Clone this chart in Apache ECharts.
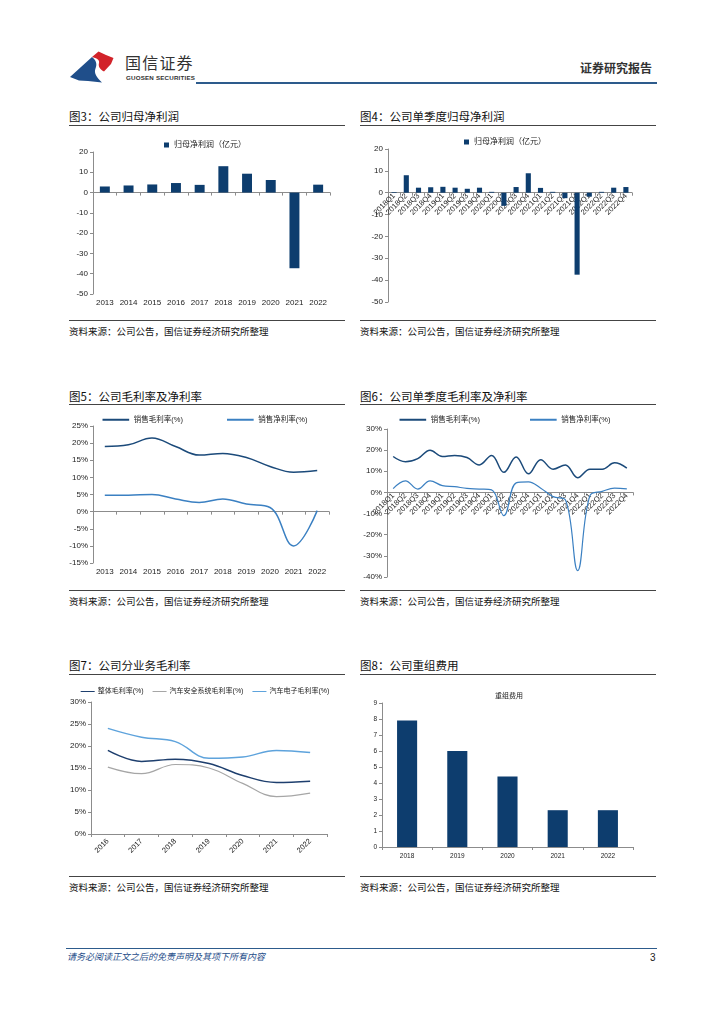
<!DOCTYPE html>
<html>
<head>
<meta charset="utf-8">
<script src="https://cdn.jsdelivr.net/npm/echarts@6/dist/echarts.min.js"></script>
<style>
  html,body{margin:0;padding:0;background:#fff;}
  body{width:724px;height:1024px;position:relative;overflow:hidden;font-family:"Liberation Sans","Noto Sans CJK SC",sans-serif;}
  .abs{position:absolute;}
  .title{position:absolute;font-family:"Noto Sans CJK SC",sans-serif;font-size:11.5px;color:#111;line-height:14px;white-space:nowrap;}
  .src{position:absolute;font-family:"Noto Sans CJK SC",sans-serif;font-size:9.5px;color:#111;line-height:12px;white-space:nowrap;}
  .hl{position:absolute;height:1px;background:#444;}
  .chart{position:absolute;}
</style>
</head>
<body>
<!-- header -->
<svg class="abs" style="left:0;top:0" width="130" height="95" viewBox="0 0 130 95">
  <path d="M70,77 L92,57 C96,60 97.5,64 95.5,68.5 C93.5,73 97,78 102,82.5 L88,81 L79,80.5 Z" fill="#1f4e8a"/>
  <path d="M92,57 L98.5,51.5 L106,55 L113.5,58 L111,64 L104,71.5 C100,69.5 98,66.5 99,63 C100,60 96.5,58 92,57 Z" fill="#d2232a"/>
</svg>
<div class="abs" style="left:125px;top:53px;font-family:'Noto Sans CJK SC';font-size:16px;letter-spacing:1.2px;color:#333;line-height:18px;">国信证券</div>
<div class="abs" style="left:126px;top:74px;font-family:'Liberation Sans';font-size:6.2px;font-weight:bold;letter-spacing:0.2px;color:#333;line-height:7px;">GUOSEN SECURITIES</div>
<div class="abs" style="left:196px;top:82px;width:461px;height:2px;background:#2d5b8c;"></div>
<div class="abs" style="left:580px;top:61px;font-family:'Noto Sans CJK SC';font-size:12px;font-weight:bold;color:#333;line-height:14px;">证券研究报告</div>

<!-- titles -->
<div class="title" style="left:69px;top:109px;">图3：公司归母净利润</div>
<div class="hl" style="left:69px;top:125px;width:276px;"></div>
<div class="title" style="left:360px;top:109px;">图4：公司单季度归母净利润</div>
<div class="hl" style="left:360px;top:125px;width:296px;"></div>
<div class="hl" style="left:69px;top:320px;width:276px;"></div>
<div class="src" style="left:69px;top:325px;">资料来源：公司公告，国信证券经济研究所整理</div>
<div class="hl" style="left:360px;top:320px;width:296px;"></div>
<div class="src" style="left:360px;top:325px;">资料来源：公司公告，国信证券经济研究所整理</div>

<div class="title" style="left:69px;top:389px;">图5：公司毛利率及净利率</div>
<div class="hl" style="left:69px;top:404px;width:276px;"></div>
<div class="title" style="left:360px;top:389px;">图6：公司单季度毛利率及净利率</div>
<div class="hl" style="left:360px;top:404px;width:296px;"></div>
<div class="hl" style="left:69px;top:590px;width:276px;"></div>
<div class="src" style="left:69px;top:595px;">资料来源：公司公告，国信证券经济研究所整理</div>
<div class="hl" style="left:360px;top:590px;width:296px;"></div>
<div class="src" style="left:360px;top:595px;">资料来源：公司公告，国信证券经济研究所整理</div>

<div class="title" style="left:69px;top:658px;">图7：公司分业务毛利率</div>
<div class="hl" style="left:69px;top:674px;width:276px;"></div>
<div class="title" style="left:360px;top:658px;">图8：公司重组费用</div>
<div class="hl" style="left:360px;top:674px;width:296px;"></div>
<div class="hl" style="left:69px;top:876px;width:276px;"></div>
<div class="src" style="left:69px;top:881px;">资料来源：公司公告，国信证券经济研究所整理</div>
<div class="hl" style="left:360px;top:876px;width:296px;"></div>
<div class="src" style="left:360px;top:881px;">资料来源：公司公告，国信证券经济研究所整理</div>

<!-- footer -->
<div class="abs" style="left:66px;top:948px;width:591px;height:1px;background:#2d5b8c;"></div>
<div class="abs" style="left:67px;top:951px;font-family:'Noto Sans CJK SC';font-size:9px;font-style:italic;color:#1f4e8a;line-height:11px;">请务必阅读正文之后的免责声明及其项下所有内容</div>
<div class="abs" style="left:650px;top:952px;font-family:'Liberation Sans';font-size:10px;color:#222;line-height:11px;">3</div>

<div id="c3" class="chart" style="left:60px;top:130px;width:290px;height:185px;"></div>
<div id="c4" class="chart" style="left:355px;top:130px;width:300px;height:185px;"></div>
<div id="c5" class="chart" style="left:60px;top:405px;width:290px;height:190px;"></div>
<div id="c6" class="chart" style="left:355px;top:405px;width:300px;height:190px;"></div>
<div id="c7" class="chart" style="left:60px;top:676px;width:290px;height:195px;"></div>
<div id="c8" class="chart" style="left:355px;top:676px;width:300px;height:195px;"></div>

<script>
// ---------- data ----------
const years3 = ['2013','2014','2015','2016','2017','2018','2019','2020','2021','2022'];
const netProfit3 = [3.0, 3.5, 4.0, 4.7, 3.8, 13.0, 9.3, 6.2, -37.3, 3.9];

const quarters = ['2018Q1','2018Q2','2018Q3','2018Q4','2019Q1','2019Q2','2019Q3','2019Q4',
  '2020Q1','2020Q2','2020Q3','2020Q4','2021Q1','2021Q2','2021Q3','2021Q4',
  '2022Q1','2022Q2','2022Q3','2022Q4'];
const netProfitQ = [0.3, 8.0, 2.3, 2.5, 2.7, 2.3, 1.8, 2.3, 0.4, -6.0, 2.6, 8.9, 2.2, 0.4, -2.5, -37.5, -1.8, 0.4, 2.3, 2.6];

const years5 = ['2013','2014','2015','2016','2017','2018','2019','2020','2021','2022'];
const grossMargin5 = [19.0, 19.5, 21.5, 19.0, 16.5, 17.0, 15.8, 13.2, 11.5, 12.0];
const netMargin5 = [4.8, 4.8, 5.0, 3.7, 2.7, 3.7, 2.2, 1.2, -10.0, 0.3];

const grossMarginQ = [17.0, 14.5, 16.0, 20.0, 17.0, 17.5, 16.5, 13.0, 17.5, 9.5, 16.8, 8.8, 15.5, 11.0, 13.0, 7.0, 11.0, 11.0, 14.0, 11.5];
const netMarginQ = [1.8, 5.5, 1.6, 5.5, 3.2, 2.7, 1.9, 1.6, 1.2, -11.0, 4.5, 5.0, 2.0, -2.0, -3.5, -37.0, -1.5, 0.5, 2.0, 1.7];

const years7 = ['2016','2017','2018','2019','2020','2021','2022'];
const overallMargin = [19.0, 16.5, 17.0, 16.0, 13.3, 11.7, 12.0];
const safetyMargin = [15.2, 13.7, 15.8, 15.0, 11.5, 8.5, 9.3];
const electronicsMargin = [24.0, 22.0, 21.0, 17.2, 17.5, 19.0, 18.5];

const years8 = ['2018','2019','2020','2021','2022'];
const restructCost = [7.9, 6.0, 4.4, 2.3, 2.3];

// ---------- styles ----------
const FONT = '"Liberation Sans","Noto Sans CJK SC",sans-serif';
const BAR = '#0d3d6e';
const DARK = '#1b4a7a';
const LIGHT = '#3b80c2';
const AX = '#8c8c8c';

function yAxisCommon(min, max, interval, fs, fmt) {
  return {
    type: 'value', min: min, max: max, interval: interval,
    axisLine: {show: true, lineStyle: {color: AX, width: 1}},
    axisTick: {show: true, length: 3, lineStyle: {color: AX}},
    splitLine: {show: false},
    axisLabel: {color: '#222', fontSize: fs, fontFamily: FONT, margin: 5, formatter: fmt || '{value}'}
  };
}
function xAxisCommon(cats, fs, rotate, margin) {
  return {
    type: 'category', data: cats, boundaryGap: true,
    axisLine: {show: true, onZero: true, lineStyle: {color: AX, width: 1}},
    axisTick: {show: true, length: 3, alignWithLabel: false, lineStyle: {color: AX}},
    axisLabel: {color: '#222', fontSize: fs, fontFamily: FONT, rotate: rotate || 0, margin: margin == null ? 5 : margin, interval: 0},
    splitLine: {show: false}
  };
}
// x axis placed on the zero line explicitly (for rotated labels)
function xAxisAtZero(cats, fs, rotate, margin, gridH, yMin, yMax) {
  const ax = xAxisCommon(cats, fs, rotate, margin);
  ax.axisLine.onZero = false;
  ax.position = 'bottom';
  ax.offset = -gridH * (0 - yMin) / (yMax - yMin);
  return ax;
}
function barLegend(name, top) {
  return {top: top, left: 'center', icon: 'rect', itemWidth: 5, itemHeight: 5, itemGap: 4,
    data: [name], textStyle: {fontSize: 8, color: '#222', fontFamily: FONT}};
}
function lineLegend(names, top, gap, w) {
  return {top: top, left: 'center', icon: 'path://M0,0 L20,0 L20,1.5 L0,1.5 Z', itemWidth: w || 22, itemHeight: 2, itemGap: gap,
    data: names, textStyle: {fontSize: 7.5, color: '#222', fontFamily: FONT, padding: [0,0,0,-2]}};
}

// ---------- chart 3 ----------
echarts.init(document.getElementById('c3')).setOption({
  animation: false,
  legend: barLegend('归母净利润（亿元）', 6),
  grid: {left: 33, right: 20, top: 22, bottom: 21},
  xAxis: xAxisCommon(years3, 8, 0, 5),
  yAxis: yAxisCommon(-50, 20, 10, 8),
  series: [{name: '归母净利润（亿元）', type: 'bar', data: netProfit3, barWidth: '42%', itemStyle: {color: BAR}}]
});

// ---------- chart 4 ----------
const g4 = {left: 33, right: 23, top: 19, bottom: 13};
echarts.init(document.getElementById('c4')).setOption({
  animation: false,
  legend: barLegend('归母净利润（亿元）', 3),
  grid: g4,
  xAxis: xAxisAtZero(quarters, 7.6, 45, 2, 185 - g4.top - g4.bottom, -50, 20),
  yAxis: yAxisCommon(-50, 20, 10, 8),
  series: [{name: '归母净利润（亿元）', type: 'bar', data: netProfitQ, barWidth: '42%', itemStyle: {color: BAR}}]
});

// ---------- chart 5 ----------
echarts.init(document.getElementById('c5')).setOption({
  animation: false,
  legend: lineLegend(['销售毛利率(%)', '销售净利率(%)'], 6, 44, 30),
  grid: {left: 33, right: 21, top: 21, bottom: 32},
  xAxis: xAxisCommon(years5, 8, 0, 5),
  yAxis: yAxisCommon(-15, 25, 5, 8, '{value}%'),
  series: [
    {name: '销售毛利率(%)', type: 'line', data: grossMargin5, smooth: 0.4, symbol: 'none', lineStyle: {color: DARK, width: 1.5}, itemStyle: {color: DARK}},
    {name: '销售净利率(%)', type: 'line', data: netMargin5, smooth: 0.4, symbol: 'none', lineStyle: {color: LIGHT, width: 1.5}, itemStyle: {color: LIGHT}}
  ]
});

// ---------- chart 6 ----------
const g6 = {left: 32, right: 22, top: 24, bottom: 18};
echarts.init(document.getElementById('c6')).setOption({
  animation: false,
  legend: lineLegend(['销售毛利率(%)', '销售净利率(%)'], 6, 50, 30),
  grid: g6,
  xAxis: xAxisAtZero(quarters, 7.6, 45, 2, 190 - g6.top - g6.bottom, -40, 30),
  yAxis: yAxisCommon(-40, 30, 10, 8, '{value}%'),
  series: [
    {name: '销售毛利率(%)', type: 'line', data: grossMarginQ, smooth: 0.4, symbol: 'none', lineStyle: {color: DARK, width: 1.5}, itemStyle: {color: DARK}},
    {name: '销售净利率(%)', type: 'line', data: netMarginQ, smooth: 0.4, symbol: 'none', lineStyle: {color: LIGHT, width: 1.2}, itemStyle: {color: LIGHT}}
  ]
});

// ---------- chart 7 ----------
const leg7 = lineLegend(['整体毛利率(%)', '汽车安全系统毛利率(%)', '汽车电子毛利率(%)'], 7, 9, 14);
leg7.textStyle.fontSize = 7;
echarts.init(document.getElementById('c7')).setOption({
  animation: false,
  legend: leg7,
  grid: {left: 31, right: 23, top: 26, bottom: 37},
  xAxis: xAxisCommon(years7, 7.5, 45, 6),
  yAxis: yAxisCommon(0, 30, 5, 8, '{value}%'),
  series: [
    {name: '整体毛利率(%)', type: 'line', data: overallMargin, smooth: 0.4, symbol: 'none', lineStyle: {color: '#1e3f6e', width: 1.5}, itemStyle: {color: '#1e3f6e'}},
    {name: '汽车安全系统毛利率(%)', type: 'line', data: safetyMargin, smooth: 0.4, symbol: 'none', lineStyle: {color: '#a6a6a6', width: 1.2}, itemStyle: {color: '#a6a6a6'}},
    {name: '汽车电子毛利率(%)', type: 'line', data: electronicsMargin, smooth: 0.4, symbol: 'none', lineStyle: {color: '#5ea3dc', width: 1.5}, itemStyle: {color: '#5ea3dc'}}
  ]
});

// ---------- chart 8 ----------
echarts.init(document.getElementById('c8')).setOption({
  animation: false,
  title: {text: '重组费用', left: 135, top: 12, textStyle: {fontSize: 7, fontWeight: 'normal', color: '#222', fontFamily: FONT}},
  grid: {left: 27, right: 22, top: 27, bottom: 24},
  xAxis: xAxisCommon(years8, 6.5, 0, 6),
  yAxis: yAxisCommon(0, 9, 1, 6.5),
  series: [{name: '重组费用', type: 'bar', data: restructCost, barWidth: '40%', itemStyle: {color: BAR}}]
});
</script>
</body>
</html>
